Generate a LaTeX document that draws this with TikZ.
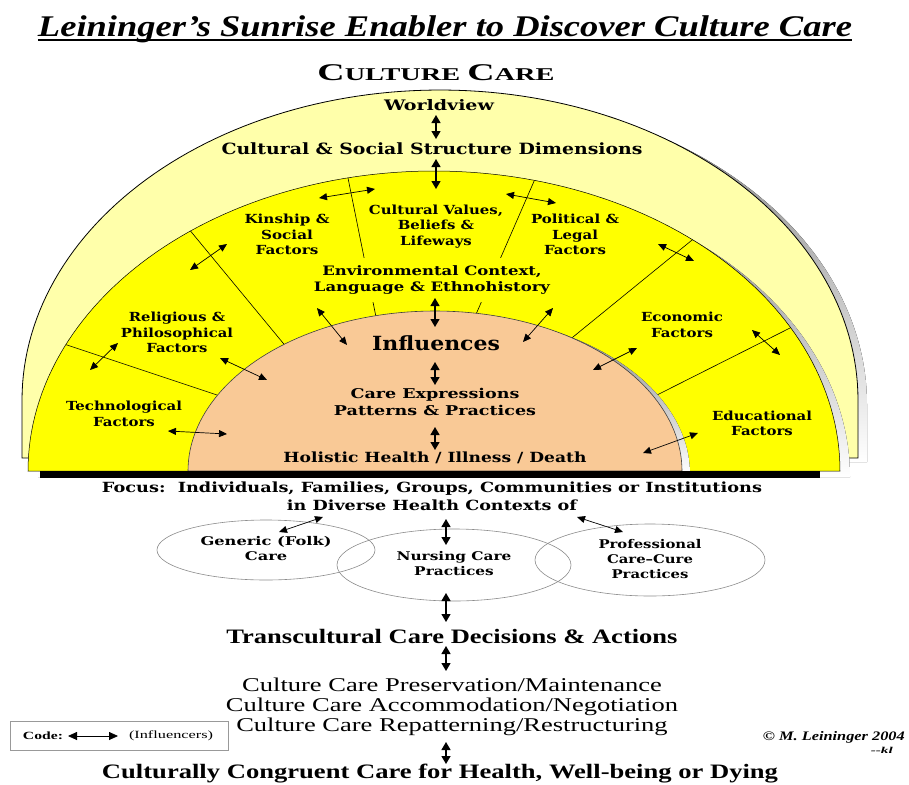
\documentclass[tikz,border=0pt]{standalone}
\usepackage{fontspec}
\usepackage{graphicx}
\setmainfont{Liberation Serif}
\newfontfamily\dvs{DejaVu Serif}
\usetikzlibrary{arrows.meta,calc,shapes.geometric}
\definecolor{paleY}{HTML}{FFFFAA}
\definecolor{sunY}{HTML}{FFFF00}
\definecolor{peach}{HTML}{F9C996}
\definecolor{shade}{HTML}{808080}
\newcommand{\wb}[2]{\resizebox{#1pt}{\height}{#2}}
\newcommand{\ml}[2]{\resizebox{#1pt}{\height}{\begin{tabular}{@{}c@{}}#2\end{tabular}}}
\tikzset{
  dv/.style n args={2}{inner sep=0pt, font=\dvs\bfseries\fontsize{#1}{#2}\selectfont},
  tr/.style n args={2}{inner sep=0pt, font=\fontsize{#1}{#2}\selectfont},
  biarr/.style={line width=0.7pt, {Triangle[length=8pt,width=7pt]}-{Triangle[length=8pt,width=7pt]}},
  varr/.style={line width=1.3pt, {Triangle[length=8pt,width=9pt]}-{Triangle[length=8pt,width=9pt]}},
  divl/.style={line width=0.6pt, shorten <=-30pt, shorten >=-30pt},
  ring/.style={ellipse, draw=black!45, line width=0.6pt},
}
\begin{document}
\begin{tikzpicture}[x=1pt,y=-1pt]
\useasboundingbox (0,0) rectangle (909,784);
\fill[white] (0,0) rectangle (909,784);

% ---- pale outer band
\begin{scope}[shift={(9,4)}]
\fill[shade] (22,458) -- (22,400) -- plot[domain=180:360,samples=120] ({440+418*cos(\x)},{400+310*sin(\x)}) -- (858,458) -- cycle;
\end{scope}
\filldraw[fill=paleY, draw=black, line width=0.8pt] (22,458) -- (22,400) -- plot[domain=180:360,samples=120] ({440+418*cos(\x)},{400+310*sin(\x)}) -- (858,458) -- cycle;

% ---- yellow band
\begin{scope}[shift={(10,6)}]
\fill[shade] (28,471) -- plot[domain=180:360,samples=120] ({434+406*cos(\x)},{471+300*sin(\x)}) -- cycle;
\end{scope}
\filldraw[fill=sunY, draw=black, line width=0.5pt] (28,471) -- plot[domain=180:360,samples=120] ({434+406*cos(\x)},{471+300*sin(\x)}) -- cycle;

% ---- dividers
\coordinate (d1a) at (348,178); \coordinate (d1b) at (375,312);
\coordinate (d2a) at (535,179); \coordinate (d2b) at (477,312);
\coordinate (d3a) at (188,228); \coordinate (d3b) at (283,343);
\coordinate (d4a) at (67,345);  \coordinate (d4b) at (217,395);
\coordinate (d5a) at (697,236); \coordinate (d5b) at (573,337);
\coordinate (d6a) at (792,327); \coordinate (d6b) at (657,395);
\begin{scope}
\clip (28,471) -- plot[domain=180:360,samples=120] ({434+406*cos(\x)},{471+300*sin(\x)}) -- cycle;
\draw[divl] (d1a) -- (d1b);
\draw[divl] (d2a) -- (d2b);
\draw[divl] (d3a) -- (d3b);
\draw[divl] (d4a) -- (d4b);
\draw[divl] (d5a) -- (d5b);
\draw[divl] (d6a) -- (d6b);
\end{scope}

% ---- peach core
\begin{scope}[shift={(8,3)}]
\fill[shade] (188,471) -- plot[domain=180:360,samples=100] ({435+247*cos(\x)},{471+160*sin(\x)}) -- cycle;
\end{scope}
\filldraw[fill=peach, draw=black!75, line width=0.6pt] (188,471) -- plot[domain=180:360,samples=100] ({435+247*cos(\x)},{471+160*sin(\x)}) -- cycle;
\fill[black] (40,471) rectangle (820,477.5);

% ---- titles
\node[tr={30}{34}, anchor=base] (title) at (445,36) {\wb{814}{\bfseries\itshape Leininger’s Sunrise Enabler to Discover Culture Care}};
\draw[line width=1.5pt] ($(title.base west)+(0,4)$) -- ($(title.base east)+(0,4)$);
\node[inner sep=0pt, anchor=base] (cchead) at (436,80) {\wb{237}{\bfseries\fontsize{24}{24}\selectfont C\fontsize{18}{18}\selectfont ULTURE \fontsize{24}{24}\selectfont C\fontsize{18}{18}\selectfont ARE}};

% ---- semicircle texts
\node[dv={14.5}{16}] (world) at (439,105) {\wb{110}{Worldview}};
\node[dv={15.5}{17}] (csd) at (432,149) {\wb{421}{Cultural \& Social Structure Dimensions}};
\node[dv={12.5}{15.5}] (kin) at (287,236) {\ml{85}{Kinship \&\\Social\\Factors}};
\node[dv={12.5}{15.5}] (val) at (436,226.5) {\ml{134}{Cultural Values,\\Beliefs \&\\Lifeways}};
\node[dv={12.5}{15.5}] (pol) at (575,236) {\ml{88}{Political \&\\Legal\\Factors}};
\node[dv={13}{16}, fill=sunY, inner xsep=3pt, inner ysep=6pt] (env) at (432,280) {\ml{236}{Environmental Context,\\Language \& Ethnohistory}};
\node[dv={12.5}{15.5}] (rel) at (177,334) {\ml{112}{Religious \&\\Philosophical\\Factors}};
\node[dv={12.5}{15.5}] (tech) at (124,415.5) {\ml{116}{Technological\\Factors}};
\node[dv={12.5}{15.5}] (econ) at (682,326.5) {\ml{82}{Economic\\Factors}};
\node[dv={12.5}{15.5}] (edu) at (762,425) {\ml{100}{Educational\\Factors}};
\node[dv={19.5}{22}] (infl) at (436,343) {\wb{128}{Influences}};
\node[dv={13.5}{17}] (cexp) at (435,404) {\ml{202}{Care Expressions\\Patterns \& Practices}};
\node[dv={14}{16}] (hol) at (435,458) {\wb{303}{Holistic Health / Illness / Death}};

% ---- focus
\node[dv={14}{16}] (focus) at (432,489) {\wb{660}{Focus:\ \ Individuals, Families, Groups, Communities or Institutions}};
\node[dv={14}{16}] (ctx) at (432,505) {\wb{290}{in Diverse Health Contexts of}};
\node[ring, dv={12}{15}, minimum width=218pt, minimum height=60pt] (gen) at (266,550) {\ml{131}{Generic (Folk)\\Care}};
\node[ring, dv={12}{15}, minimum width=234pt, minimum height=72pt] (nur) at (454,565) {\ml{115}{Nursing Care\\Practices}};
\node[ring, dv={12}{15}, minimum width=230pt, minimum height=72pt] (pro) at (650,560) {\ml{103}{Professional\\Care–Cure\\Practices}};

% ---- lower texts
\node[tr={20.5}{22}] (tcd) at (452,637) {\wb{451}{\bfseries Transcultural Care Decisions \& Actions}};
\node[tr={19.5}{20}] (ccl) at (452,707) {\ml{452}{Culture Care Preservation/Maintenance\\Culture Care Accommodation/Negotiation\\Culture Care Repatterning/Restructuring}};
\node[tr={20.5}{22}, anchor=base] (ccc) at (440,778) {\wb{676}{\bfseries Culturally Congruent Care for Health, Well-being or Dying}};

% ---- code box and credit
\node[draw=black!40, line width=0.6pt, minimum width=218pt, minimum height=29pt, inner sep=0pt] (codebox) at (119,735.5) {};
\node[tr={11}{13}] (codelbl) at (43,736) {\wb{40}{\bfseries Code:}};
\node[tr={11}{13}] (codetxt) at (171,736) {\wb{84}{(Influencers)}};
\coordinate (k1) at (68,736); \coordinate (k2) at (118,736);
\draw[line width=0.8pt, {Triangle[length=9pt,width=8pt]}-{Triangle[length=9pt,width=8pt]}] (k1) -- (k2);
\node[tr={13}{15}, anchor=base east] (copy) at (905,740) {\wb{142}{\bfseries\itshape © M. Leininger 2004}};
\node[tr={9}{11}, anchor=base east] (kl) at (893,753) {\wb{22}{\bfseries\itshape -{}-kl}};

% ---- vertical arrows
\coordinate (a1) at (436,115); \coordinate (a2) at (436,139);
\coordinate (b1) at (436,159); \coordinate (b2) at (436,189);
\coordinate (c1) at (435,298); \coordinate (c2) at (435,327);
\coordinate (e1) at (435,362); \coordinate (e2) at (435,385);
\coordinate (f1) at (435,427); \coordinate (f2) at (435,450);
\coordinate (g1) at (446,519); \coordinate (g2) at (446,545);
\coordinate (h1) at (446,593); \coordinate (h2) at (446,622);
\coordinate (i1) at (446,646); \coordinate (i2) at (446,671);
\coordinate (j1) at (446,742); \coordinate (j2) at (446,764);
\draw[varr] (a1) -- (a2);
\draw[varr] (b1) -- (b2);
\draw[varr] (c1) -- (c2);
\draw[varr] (e1) -- (e2);
\draw[varr] (f1) -- (f2);
\draw[varr] (g1) -- (g2);
\draw[varr] (h1) -- (h2);
\draw[varr] (i1) -- (i2);
\draw[varr] (j1) -- (j2);

% ---- influence arrows
\coordinate (t1a) at (319,198); \coordinate (t1b) at (375,189);
\coordinate (t2a) at (506,194); \coordinate (t2b) at (556,203);
\coordinate (t3a) at (190,270); \coordinate (t3b) at (227,244);
\coordinate (t4a) at (658,244); \coordinate (t4b) at (694,261);
\coordinate (t5a) at (90,370);  \coordinate (t5b) at (118,343);
\coordinate (t6a) at (752,330); \coordinate (t6b) at (780,355);
\coordinate (t7a) at (220,358); \coordinate (t7b) at (267,380);
\coordinate (t8a) at (168,431); \coordinate (t8b) at (227,434);
\coordinate (t9a) at (317,308); \coordinate (t9b) at (347,345);
\coordinate (t10a) at (553,308); \coordinate (t10b) at (523,342);
\coordinate (t11a) at (637,348); \coordinate (t11b) at (593,370);
\coordinate (t12a) at (698,433); \coordinate (t12b) at (643,453);
\coordinate (t13a) at (323,517); \coordinate (t13b) at (279,532);
\coordinate (t14a) at (577,517); \coordinate (t14b) at (623,532);
\foreach \n in {1,...,14} {\draw[biarr] (t\n a) -- (t\n b);}
\end{tikzpicture}
\end{document}
